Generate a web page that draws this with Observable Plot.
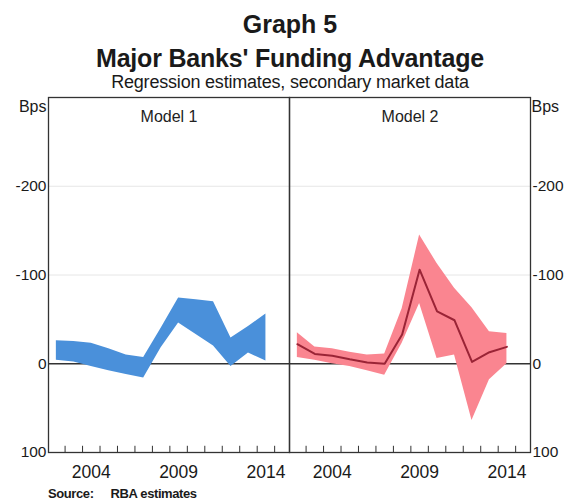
<!DOCTYPE html>
<html><head><meta charset="utf-8">
<script src="https://cdn.jsdelivr.net/npm/d3@7"></script>
<script src="https://cdn.jsdelivr.net/npm/@observablehq/plot@0.6"></script>
<style>
body{margin:0;background:#fff;font-family:"Liberation Sans",Arial,sans-serif;color:#1a1a1a;}
#wrap{position:relative;width:569px;height:502px;overflow:hidden;}
.t{position:absolute;left:0;width:580px;text-align:center;white-space:nowrap;}
#t1{top:12px;font-size:25px;line-height:25px;font-weight:bold;}
#t2{top:46px;font-size:25px;line-height:25px;font-weight:bold;letter-spacing:-0.2px;}
#t3{top:73px;font-size:18px;line-height:18px;letter-spacing:-0.2px;}
#chart{position:absolute;left:0;top:88px;}
#src{position:absolute;left:48px;top:487px;font-size:13px;line-height:13px;font-weight:bold;letter-spacing:-0.4px;}
#src span{margin-left:17px;}
</style></head>
<body>
<div id="wrap">
<div class="t" id="t1">Graph 5</div>
<div class="t" id="t2">Major Banks' Funding Advantage</div>
<div class="t" id="t3">Regression estimates, secondary market data</div>
<div id="chart"></div>
<div id="src">Source:<span>RBA estimates</span></div>
</div>
<script>
const models = ["Model 1", "Model 2"];
const years = [2002.5, 2003.5, 2004.5, 2005.5, 2006.5, 2007.5, 2008.5, 2009.5, 2010.5, 2011.5, 2012.5, 2013.5, 2014.5];
// Model 1 band (upper edge = more negative, lower edge)
const m1Top = [-26, -25, -23, -17, -10, -7, -40, -74, -72, -70, -29, -42, -56];
const m1Bot = [-4, -2, 3, 8, 12, 16, -18, -46, -33, -20, 3, -12, -3];
// Model 2 band and central estimate
const m2Top = [-35, -19, -17, -13, -10, -11, -62, -145, -113, -85, -63, -36, -34];
const m2Bot = [-7, -4, 0, 3, 8, 13, -23, -68, -6, -10, 64, 18, 0];
const m2Mid = [-22, -11, -9, -5, -1.5, 0, -33, -106, -59, -49, -2, -13, -19];
const yTicks = [-200, -100, 0, 100];
const gridVals = [-200, -100];
const yearStarts = [2003, 2004, 2005, 2006, 2007, 2008, 2009, 2010, 2011, 2012, 2013, 2014, 2015];
const xLabels = [2004, 2009, 2014];
const colors = ["#4a90da", "#fa8590"];
const lineColor = "#9a2436";

const bands = years.flatMap((yr, i) => [
  {model: models[0], year: yr, top: m1Top[i], bot: m1Bot[i]},
  {model: models[1], year: yr, top: m2Top[i], bot: m2Bot[i]}
]);
const mid = years.map((yr, i) => ({model: models[1], year: yr, v: m2Mid[i]}));
const fmt = d => d < 0 ? "-" + Math.abs(d) : String(d);

const chart = Plot.plot({
  width: 569, height: 398,
  marginLeft: 48, marginRight: 39, marginTop: 9, marginBottom: 34,
  fx: {domain: models, padding: 0, axis: null},
  x: {domain: [2002.05, 2015.85]},
  y: {domain: [-300, 100], reverse: true},
  color: {domain: models, range: colors},
  style: {fontFamily: "Liberation Sans, Arial, sans-serif", fontSize: "15px", color: "#1a1a1a", background: "transparent"},
  marks: [
    Plot.ruleY(gridVals, {stroke: "#e6e6e6", strokeWidth: 1}),
    Plot.ruleY([0], {stroke: "#333", strokeWidth: 1.3}),
    Plot.areaY(bands, {fx: "model", x: "year", y1: "top", y2: "bot", fill: "model", curve: "linear"}),
    Plot.lineY(mid, {fx: "model", x: "year", y: "v", stroke: lineColor, strokeWidth: 2}),
    Plot.ruleX(yearStarts, {x: d => d, y1: 100, y2: 93, stroke: "#333", strokeWidth: 1}),
    Plot.frame({stroke: "#333", strokeWidth: 1.3}),
    Plot.axisX(xLabels.map(d => d + 0.5), {tickSize: 0, tickPadding: 13, tickFormat: d => String(Math.floor(d)), label: null, fontSize: 17.5, letterSpacing: "-0.4px"}),
    Plot.axisY(yTicks, {anchor: "left", tickSize: 0, tickPadding: 2, tickFormat: fmt, label: null, fontSize: 15.5, letterSpacing: "-1px"}),
    Plot.axisY(yTicks, {anchor: "right", tickSize: 0, tickPadding: 2, tickFormat: fmt, label: null, fontSize: 15.5, letterSpacing: "-1px"}),
    Plot.text(models, {fx: d => d, text: d => d, frameAnchor: "top", dy: 13, fontSize: 16, letterSpacing: "-1px", fill: "#222"}),
    Plot.text([models[0]], {fx: d => d, text: () => "Bps", frameAnchor: "top-left", textAnchor: "end", dx: -2, dy: 3, fontSize: 16, letterSpacing: "-0.8px"}),
    Plot.text([models[1]], {fx: d => d, text: () => "Bps", frameAnchor: "top-right", textAnchor: "start", dx: 1, dy: 3, fontSize: 16, letterSpacing: "-0.8px"})
  ]
});
document.getElementById("chart").appendChild(chart);
</script>
</body></html>
